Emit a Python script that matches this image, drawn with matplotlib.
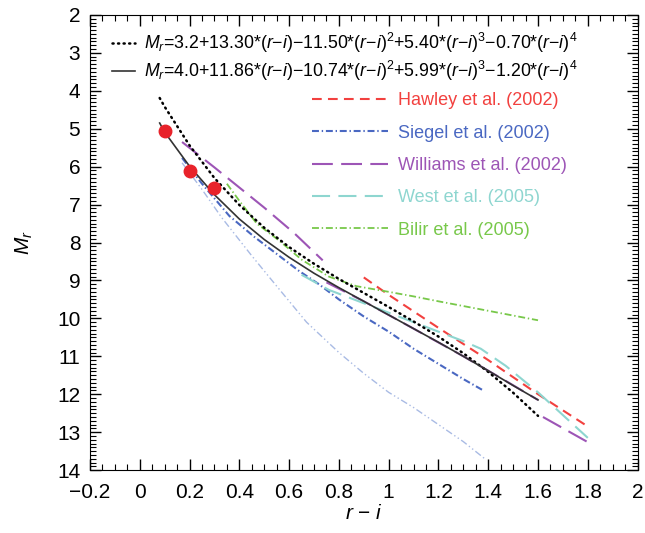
import numpy as np
import matplotlib
matplotlib.use('Agg')
import matplotlib.pyplot as plt
from matplotlib.ticker import MultipleLocator, FixedLocator, FixedFormatter

plt.rcParams['font.family'] = ['Liberation Sans', 'DejaVu Sans']
plt.rcParams['mathtext.fontset'] = 'custom'
plt.rcParams['mathtext.rm'] = 'Liberation Sans'
plt.rcParams['mathtext.it'] = 'Liberation Sans:italic'
plt.rcParams['lines.scale_dashes'] = False

MINUS = '\u2212'

# --- data ---
dotted_x = [0.08, 0.1, 0.2, 0.3, 0.4, 0.5, 0.6, 0.7, 0.8, 0.9, 1.0,
            1.1, 1.2, 1.3, 1.4, 1.5, 1.6]
dotted_y = [4.19, 4.42, 5.44, 6.30, 7.01, 7.61, 8.12, 8.56, 8.96, 9.33, 9.70,
            10.08, 10.48, 10.92, 11.41, 11.96, 12.57]

solid_x = [0.08, 0.1, 0.2, 0.3, 0.4, 0.5, 0.6, 0.7, 0.8, 0.9, 1.0,
           1.1, 1.2, 1.3, 1.4, 1.5, 1.6]
solid_y = [4.85, 5.09, 5.99, 6.74, 7.38, 7.92, 8.39, 8.81, 9.19, 9.55, 9.91,
           10.27, 10.63, 11.00, 11.38, 11.77, 12.15]

hawley_x = [0.9, 1.0, 1.2, 1.4, 1.6, 1.8]
hawley_y = [8.92, 9.38, 10.25, 11.1, 12.0, 12.85]

siegel_x = [0.17, 0.25, 0.36, 0.46, 0.56, 0.64, 0.72, 0.8, 0.9, 1.0, 1.1, 1.2, 1.3, 1.38]
siegel_y = [5.77, 6.45, 7.3, 7.85, 8.35, 8.75, 9.1, 9.5, 9.95, 10.35, 10.8, 11.2, 11.6, 11.9]

siegel2_x = [0.17, 0.25, 0.33, 0.45, 0.55, 0.67, 0.8, 0.9, 1.0, 1.1, 1.2, 1.3, 1.39]
siegel2_y = [5.9, 6.6, 7.35, 8.35, 9.15, 10.1, 10.9, 11.45, 11.95, 12.35, 12.8, 13.25, 13.72]

williams_x = [0.17, 0.3, 0.5, 0.62, 0.735, np.nan, 0.75, 0.9, 1.1, 1.3, 1.45, 1.6,
              np.nan, 1.62, 1.81]
williams_y = [5.35, 6.02, 7.08, 7.75, 8.47, np.nan, 9.05, 9.55, 10.27, 11.0, 11.57, 12.15,
              np.nan, 12.6, 13.3]

west_x = [0.65, 0.76, 0.9, 1.0, 1.1, 1.2, 1.3, 1.37, 1.47, 1.6, 1.7, 1.8]
west_y = [8.85, 9.25, 9.6, 9.85, 10.1, 10.35, 10.6, 10.8, 11.25, 11.95, 12.55, 13.15]

bilir_x = [0.35, 0.4, 0.47, 0.56, 0.65, 0.76, 0.87, 1.0, 1.1, 1.2, 1.4, 1.6]
bilir_y = [6.45, 6.9, 7.5, 7.95, 8.45, 8.9, 9.15, 9.3, 9.42, 9.55, 9.8, 10.05]

dots_x = [0.1, 0.2, 0.3]
dots_y = [5.05, 6.12, 6.55]

xtick_vals = [-0.2, 0, 0.2, 0.4, 0.6, 0.8, 1, 1.2, 1.4, 1.6, 1.8, 2]
xtick_labels = [MINUS + '0.2', '0', '0.2', '0.4', '0.6', '0.8', '1', '1.2', '1.4',
                '1.6', '1.8', '2']

RI = '($r$' + MINUS + '$i$)'
EQ1 = ('$M_r$=3.2+13.30*' + RI + MINUS + '11.50*' + RI + '$^2$+5.40*' + RI
       + '$^3$' + MINUS + '0.70*' + RI + '$^4$')
EQ2 = ('$M_r$=4.0+11.86*' + RI + MINUS + '10.74*' + RI + '$^2$+5.99*' + RI
       + '$^3$' + MINUS + '1.20*' + RI + '$^4$')

SERIES = [
    ('Hawley et al. (2002)',   hawley_x,   hawley_y,   '#f2413f', (0, (7, 4.5)), 1.5),
    ('Siegel et al. (2002)',   siegel_x,   siegel_y,   '#4a68c2', (0, (5, 2, 1, 2)), 1.5),
    ('Williams et al. (2002)', williams_x, williams_y, '#9d55b6', (0, (15, 6)), 1.5),
    ('West et al. (2005)',     west_x,     west_y,     '#8ed6d0', (0, (13, 6)), 1.5),
    ('Bilir et al. (2005)',    bilir_x,    bilir_y,    '#78c84a', (0, (5, 2, 1, 2)), 1.3),
]

fig = plt.figure(figsize=(6.45, 5.33), dpi=100)
ax = fig.add_axes([0.1395, 0.118, 0.849, 0.854])

ax.plot(siegel2_x, siegel2_y, color='#a9bbe4', lw=1.0,
        linestyle=(0, (5, 2, 1, 2, 1, 2)))

handles = []
for label, xs, ys, col, ls, lw in SERIES:
    h, = ax.plot(xs, ys, color=col, linestyle=ls, lw=lw, label=label)
    handles.append(h)

h_dot, = ax.plot(dotted_x, dotted_y, color='black', lw=1.8,
                 linestyle=(0, (0.8, 3.2)), dash_capstyle='round')
h_sol, = ax.plot(solid_x, solid_y, color='#333333', lw=1.2)
ax.plot(dots_x, dots_y, 'o', color='#e8222a', ms=9, zorder=5)

ax.set_xlim(-0.2, 2)
ax.set_ylim(14, 2)
ax.xaxis.set_major_locator(FixedLocator(xtick_vals))
ax.xaxis.set_major_formatter(FixedFormatter(xtick_labels))
ax.xaxis.set_minor_locator(MultipleLocator(0.05))
ax.yaxis.set_major_locator(MultipleLocator(1))
ax.yaxis.set_minor_locator(MultipleLocator(0.1))
ax.tick_params(which='both', direction='in', top=True, right=True, labelsize=15)
ax.tick_params(which='major', length=8, width=1)
ax.tick_params(which='minor', length=4, width=0.8)
ax.tick_params(axis='x', which='major', pad=9)
ax.tick_params(axis='y', which='major', pad=7)
ax.set_xlabel('$r$ ' + MINUS + ' $i$', fontsize=15, labelpad=2)
ax.set_ylabel('$M_r$', fontsize=15, labelpad=16)

leg1 = ax.legend([h_dot, h_sol], [EQ1, EQ2], loc='upper left',
                 bbox_to_anchor=(0.04, 0.965), frameon=False, fontsize=12.8,
                 handlelength=1.3, handletextpad=0.5, borderpad=0,
                 borderaxespad=0, labelspacing=0.25)
ax.add_artist(leg1)
ax.legend(handles=handles, loc='upper left', bbox_to_anchor=(0.405, 0.83),
          frameon=False, fontsize=13, handlelength=4.2, handletextpad=0.6,
          borderpad=0, borderaxespad=0, labelspacing=0.85, labelcolor='linecolor')

fig.savefig('out.png', dpi=100)
